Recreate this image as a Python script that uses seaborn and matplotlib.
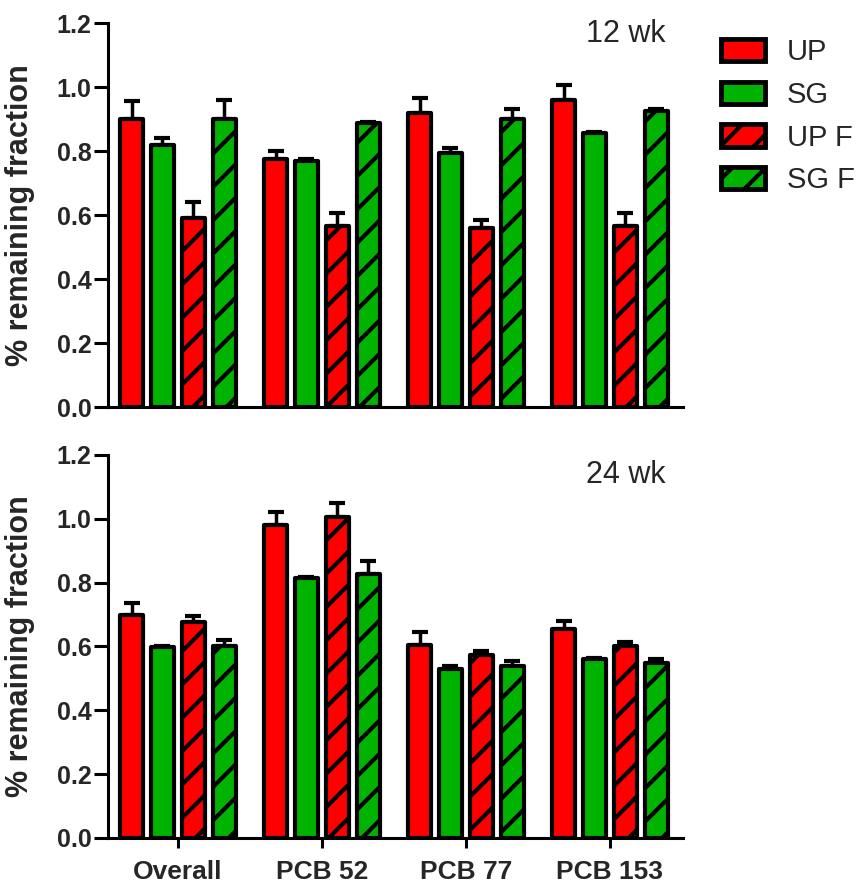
import matplotlib
matplotlib.use("Agg")
import matplotlib.pyplot as plt
import seaborn as sns
import pandas as pd
import numpy as np
from matplotlib.patches import Patch

groups = ["Overall", "PCB 52", "PCB 77", "PCB 153"]
series = ["UP", "SG", "UP F", "SG F"]
colors = ["#FF0000", "#00B300", "#FF0000", "#00B300"]
hatched = [False, False, True, True]

# 12 wk
up12 = [0.90, 0.775, 0.92, 0.96]
sg12 = [0.82, 0.77, 0.795, 0.855]
upf12 = [0.59, 0.565, 0.56, 0.565]
sgf12 = [0.90, 0.887, 0.90, 0.925]
up12_err = [0.055, 0.025, 0.045, 0.045]
sg12_err = [0.02, 0.005, 0.015, 0.004]
upf12_err = [0.05, 0.04, 0.025, 0.04]
sgf12_err = [0.06, 0.004, 0.03, 0.005]

# 24 wk
up24 = [0.70, 0.98, 0.605, 0.655]
sg24 = [0.598, 0.813, 0.53, 0.56]
upf24 = [0.678, 1.005, 0.572, 0.603]
sgf24 = [0.60, 0.828, 0.54, 0.547]
up24_err = [0.035, 0.04, 0.04, 0.025]
sg24_err = [0.004, 0.004, 0.01, 0.003]
upf24_err = [0.016, 0.044, 0.013, 0.01]
sgf24_err = [0.02, 0.04, 0.016, 0.015]

yticks = [0.0, 0.2, 0.4, 0.6, 0.8, 1.0, 1.2]
ytick_labels = ["0.0", "0.2", "0.4", "0.6", "0.8", "1.0", "1.2"]

sns.set_theme(style="ticks")
plt.rcParams["font.family"] = ["Liberation Sans", "DejaVu Sans"]
plt.rcParams["hatch.linewidth"] = 3.0
plt.rcParams["hatch.color"] = "black"

fig = plt.figure(figsize=(8.63, 8.86), dpi=100)
ax_top = fig.add_axes([0.1251, 0.5406, 0.6663, 0.4334])
ax_bot = fig.add_axes([0.1251, 0.0542, 0.6663, 0.4323])


def make_df(vals):
    rows = []
    for s, v in zip(series, vals):
        for g, x in zip(groups, v):
            rows.append({"group": g, "series": s, "value": x})
    return pd.DataFrame(rows)


def draw(ax, vals, errs, label, label_y):
    df = make_df(vals)
    sns.barplot(data=df, x="group", y="value", hue="series", order=groups,
                hue_order=series, palette=colors, saturation=1,
                width=0.86, gap=0.25, edgecolor="black", linewidth=3,
                errorbar=None, legend=False, ax=ax, zorder=2)
    for cont, h, v, e in zip(ax.containers, hatched, vals, errs):
        for p in cont:
            p.set_joinstyle("round")
            if h:
                p.set_hatch("/")
        xs = [p.get_x() + p.get_width() / 2 for p in cont]
        ax.errorbar(xs, v, yerr=[np.zeros(len(e)), e], fmt="none",
                    ecolor="black", elinewidth=2.5, capsize=5.5,
                    capthick=3.0, zorder=1)
    ax.set_ylim(0, 1.2)
    ax.set_xlim(-0.486, 3.507)
    ax.set_yticks(yticks)
    ax.set_yticklabels(ytick_labels, fontsize=18, fontweight="bold")
    ax.set_ylabel("% remaining fraction", fontsize=22, fontweight="bold")
    ax.yaxis.set_label_coords(-0.127, 0.5)
    ax.set_xlabel("")
    for sp in ["top", "right"]:
        ax.spines[sp].set_visible(False)
    for sp in ["left", "bottom"]:
        ax.spines[sp].set_linewidth(2.2)
        ax.spines[sp].set_color("black")
    ax.tick_params(axis="y", length=10, width=2.2, color="black", pad=2)
    ax.text(0.970, label_y, label, transform=ax.transAxes,
            ha="right", va="center", fontsize=22)


draw(ax_top, [up12, sg12, upf12, sgf12],
     [up12_err, sg12_err, upf12_err, sgf12_err], "12 wk", 0.972)
draw(ax_bot, [up24, sg24, upf24, sgf24],
     [up24_err, sg24_err, upf24_err, sgf24_err], "24 wk", 0.948)

ax_top.tick_params(axis="x", length=0, labelbottom=False)
ax_bot.set_xticks(range(len(groups)))
ax_bot.set_xticklabels(groups, fontsize=19, fontweight="bold")
ax_bot.tick_params(axis="x", length=7, width=2.2, color="black", pad=9)

handles = [Patch(facecolor=c, edgecolor="black", linewidth=3.5,
                 hatch="/" if h else None, label=s)
           for c, h, s in zip(colors, hatched, series)]
fig.legend(handles=handles, loc="upper left",
           bbox_to_anchor=(701 / 863, 1 - 18 / 886), frameon=False,
           fontsize=21, handlelength=1.5, handleheight=0.8,
           labelspacing=0.5, handletextpad=0.75, borderpad=0.2)

fig.savefig("out.png", dpi=100)
